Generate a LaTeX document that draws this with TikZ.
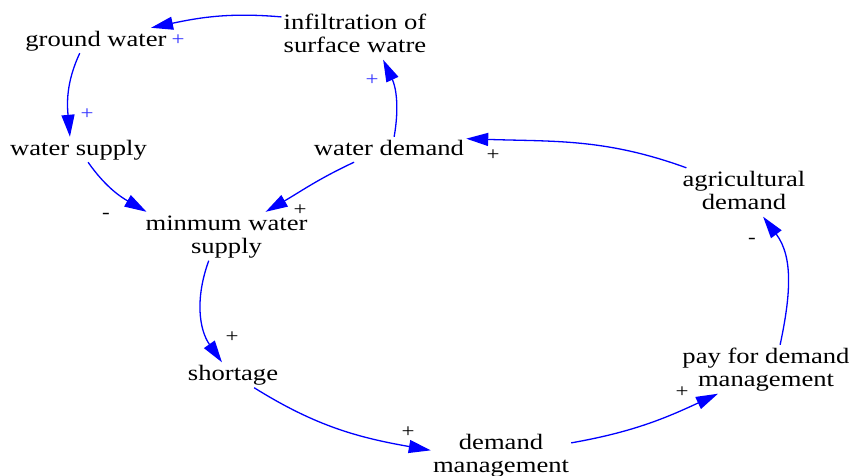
\documentclass[tikz,border=0pt]{standalone}
\usepackage{fontspec}
\setmainfont{Liberation Serif}[FakeStretch=1.21]
\usetikzlibrary{arrows.meta}
\definecolor{linkblue}{RGB}{0,0,255}
\definecolor{signblue}{RGB}{50,50,255}
\newcommand\lst{\rule[-5pt]{0pt}{21pt}}
\tikzset{
  var/.style={inner sep=2pt, align=center, font=\fontsize{22}{23.5}\selectfont, text=black},
  link/.style={draw=linkblue, line width=1.3pt, -{Triangle[length=22pt,width=13pt]}},
  sign/.style={inner sep=0pt, font=\fontsize{19}{20}\selectfont},
}
\begin{document}
\begin{tikzpicture}[x=1pt,y=1pt]
\useasboundingbox (0,0) rectangle (852,-475);
\node[var] (gw)  at (96,-40.5)   {\lst ground water};
\node[var] (inf) at (355,-35.25) {\lst infiltration of\\\lst surface watre};
\node[var] (ws)  at (78.5,-149.5) {\lst water supply};
\node[var] (wd)  at (389,-149.5) {\lst water demand};
\node[var] (mws) at (226.5,-236.25) {\lst minmum water\\\lst supply};
\node[var] (sh)  at (233,-375)   {\lst shortage};
\node[var] (dm)  at (501,-455.25) {\lst demand\\\lst management};
\node[var] (pay) at (766,-369.25) {\lst pay for demand\\\lst management};
\node[var] (ag)  at (744,-192.25) {\lst agricultural\\\lst demand};

\draw[link] (inf.166) to[out=175,in=12] (gw.13.5);
\draw[link] (gw.218) to[out=245,in=95] (ws.124);
\draw[link] (wd.68) to[out=80,in=-65] (inf.-41);
\draw[link] (ws.-53) to[out=-55,in=150] (mws.163);
\draw[link] (wd.200) to[out=205,in=30] (mws.32);
\draw[link] (mws.234) to[out=250,in=125] (sh.131);
\draw[link] (sh.-31) to[out=-32,in=170] (dm.176);
\draw[link] (dm.10.7) to[out=10,in=205] (pay.207);
\draw[link] (pay.60) to[out=78,in=-53] (ag.-52);
\draw[link] (ag.157) to[out=160,in=-2] (wd.8.5);

\node[sign,text=signblue] (s1) at (178,-40) {+};
\node[sign,text=signblue] (s2) at (87,-114) {+};
\node[sign,text=signblue] (s3) at (372,-80) {+};
\node[sign] (s4) at (106,-216) {-};
\node[sign] (s5) at (300,-210) {+};
\node[sign] (s6) at (232,-337) {+};
\node[sign] (s7) at (408,-432) {+};
\node[sign] (s8) at (682,-392) {+};
\node[sign] (s9) at (752,-241) {-};
\node[sign] (s10) at (493,-155) {+};
\end{tikzpicture}
\end{document}
